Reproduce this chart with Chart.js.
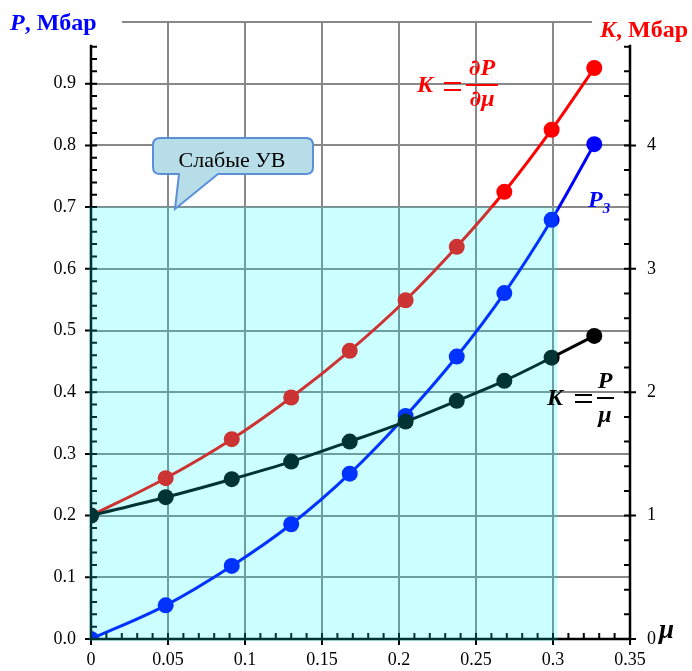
<!DOCTYPE html>
<html>
<head>
<meta charset="utf-8">
<script src="https://cdn.jsdelivr.net/npm/chart.js@4"></script>
<style>
  html, body { margin: 0; padding: 0; background: #fff; }
  #wrap { width: 692px; height: 671px; }
</style>
</head>
<body>
<div id="wrap"><canvas id="c" width="692" height="671"></canvas></div>
<script>
// ---- data ----
const muValues     = [0, 0.0485, 0.0914, 0.130, 0.168, 0.2043, 0.2375, 0.2684, 0.2991, 0.3268];
const pressureP3   = [0, 0.0546, 0.1184, 0.186, 0.268, 0.3616, 0.4578, 0.5606, 0.6794, 0.802];   // P, Mbar (left axis)
const kDerivative  = [1.0, 1.303, 1.619, 1.957, 2.335, 2.745, 3.178, 3.624, 4.127, 4.627];       // K = dP/dmu, Mbar (right axis)
const kRatio       = [1.0, 1.149, 1.295, 1.4375, 1.60, 1.762, 1.93, 2.092, 2.28, 2.456];          // K = P/mu, Mbar (right axis)
const weakShockMu  = 0.303;   // extent of the "weak shock" region
const weakShockP   = 0.7;

const pts = (xs, ys) => xs.map((v, i) => ({ x: v, y: ys[i] }));
const SERIF = "'Liberation Serif', 'Times New Roman', serif";
const DSERIF = "'DejaVu Serif', serif";

function richWidth(ctx, parts) {
  let w = 0;
  for (const p of parts) { ctx.font = p.font; w += ctx.measureText(p.text).width; }
  return w;
}
function drawRich(ctx, parts, x, y, center) {
  ctx.textAlign = 'left';
  let cx = center ? x - richWidth(ctx, parts) / 2 : x;
  for (const p of parts) {
    ctx.font = p.font;
    ctx.fillStyle = p.color;
    ctx.fillText(p.text, cx + (p.dx || 0), y + (p.dy || 0));
    cx += ctx.measureText(p.text).width + (p.dx || 0);
  }
}

const decor = {
  id: 'decor',
  beforeDraw(chart) {
    const c = chart.ctx;
    c.save();
    c.fillStyle = '#fff';
    c.fillRect(0, 0, chart.width, chart.height);
    c.restore();
  },
  afterDatasetsDraw(chart) {
    const { ctx, chartArea: a, scales: { x, y } } = chart;
    ctx.save();
    // partial top gridline
    ctx.strokeStyle = '#888';
    ctx.lineWidth = 2;
    const yTop = y.getPixelForValue(1);
    ctx.beginPath(); ctx.moveTo(a.left + 31, yTop); ctx.lineTo(a.right - 38, yTop); ctx.stroke();

    // axis lines
    const y0 = y.getPixelForValue(0);
    const yAx = y.getPixelForValue(0.963);
    ctx.strokeStyle = '#000';
    ctx.lineWidth = 2.5;
    ctx.beginPath();
    ctx.moveTo(a.left, yAx); ctx.lineTo(a.left, y0); ctx.lineTo(a.right, y0); ctx.lineTo(a.right, yAx);
    ctx.stroke();

    // ticks
    ctx.lineWidth = 2;
    ctx.beginPath();
    for (let i = 0; i <= 48; i++) {
      const p = y.getPixelForValue(i * 0.02);
      if (i % 5 === 0) { ctx.moveTo(a.left - 6, p); ctx.lineTo(a.left + 6, p); }
      else { ctx.moveTo(a.left, p); ctx.lineTo(a.left + 6, p); }
    }
    for (let i = 0; i <= 24; i++) {
      const p = chart.scales.y2.getPixelForValue(i * 0.2);
      if (i % 5 === 0) { ctx.moveTo(a.right - 6, p); ctx.lineTo(a.right + 6, p); }
      else { ctx.moveTo(a.right - 6, p); ctx.lineTo(a.right, p); }
    }
    for (let i = 0; i <= 35; i++) {
      const p = x.getPixelForValue(i * 0.01);
      if (i % 5 === 0) { ctx.moveTo(p, y0 - 6); ctx.lineTo(p, y0 + 6); }
      else { ctx.moveTo(p, y0); ctx.lineTo(p, y0 - 6); }
    }
    ctx.stroke();

    // weak shock region overlay
    const rx0 = x.getPixelForValue(0) - 2, rx1 = x.getPixelForValue(weakShockMu);
    const ry0 = y.getPixelForValue(weakShockP), ry1 = y0 + 2;
    ctx.fillStyle = 'rgba(0,255,255,0.2)';
    ctx.fillRect(rx0, ry0, rx1 - rx0, ry1 - ry0);

    // callout
    const bx = 153, by = 138, bw = 160, bh = 36, r = 7;
    ctx.beginPath();
    ctx.moveTo(bx + r, by);
    ctx.lineTo(bx + bw - r, by);
    ctx.quadraticCurveTo(bx + bw, by, bx + bw, by + r);
    ctx.lineTo(bx + bw, by + bh - r);
    ctx.quadraticCurveTo(bx + bw, by + bh, bx + bw - r, by + bh);
    ctx.lineTo(218, by + bh);
    ctx.lineTo(175, 209);
    ctx.lineTo(179, by + bh);
    ctx.lineTo(bx + r, by + bh);
    ctx.quadraticCurveTo(bx, by + bh, bx, by + bh - r);
    ctx.lineTo(bx, by + r);
    ctx.quadraticCurveTo(bx, by, bx + r, by);
    ctx.closePath();
    ctx.fillStyle = '#b7dde8';
    ctx.fill();
    ctx.strokeStyle = '#5b90d8';
    ctx.lineWidth = 2;
    ctx.stroke();
    ctx.fillStyle = '#000';
    ctx.font = `22px ${SERIF}`;
    ctx.textAlign = 'center';
    ctx.textBaseline = 'alphabetic';
    ctx.fillText('Слабые УВ', 232, by + 29);

    // axis titles
    drawRich(ctx, [
      { text: 'P', font: `italic bold 24px ${SERIF}`, color: '#0000ff' },
      { text: ', Мбар', font: `bold 24px ${SERIF}`, color: '#0000ff' }
    ], 10, 30);
    drawRich(ctx, [
      { text: 'K', font: `italic bold 24px ${SERIF}`, color: '#ff0000' },
      { text: ', Мбар', font: `bold 24px ${SERIF}`, color: '#ff0000' }
    ], 600, 37);
    ctx.textAlign = 'left';
    ctx.font = `italic bold 27px ${SERIF}`;
    ctx.fillStyle = '#000';
    ctx.fillText('μ', 659, 638);

    // formula K = dP/dmu
    const red = '#ff0000';
    drawRich(ctx, [{ text: 'K', font: `italic bold 24px ${SERIF}`, color: red }], 417, 92);
    ctx.fillStyle = red;
    ctx.fillRect(444, 82, 17, 2);
    ctx.fillRect(444, 89, 17, 2);
    drawRich(ctx, [
      { text: '∂', font: `italic bold 22px ${DSERIF}`, color: red },
      { text: 'P', font: `italic bold 24px ${SERIF}`, color: red }
    ], 482, 75, true);
    drawRich(ctx, [
      { text: '∂', font: `italic bold 22px ${DSERIF}`, color: red },
      { text: 'μ', font: `italic bold 24px ${SERIF}`, color: red }
    ], 482, 106, true);
    ctx.fillStyle = red;
    ctx.fillRect(466, 84, 32, 2);

    // P3 label
    drawRich(ctx, [
      { text: 'P', font: `italic bold 24px ${SERIF}`, color: '#0000ff' },
      { text: '3', font: `italic bold 15px ${SERIF}`, color: '#0000ff', dy: 6 }
    ], 588, 207);

    // formula K = P/mu
    drawRich(ctx, [{ text: 'K', font: `italic bold 24px ${SERIF}`, color: '#000' }], 547, 405);
    ctx.fillStyle = '#000';
    ctx.fillRect(575, 394, 17, 2);
    ctx.fillRect(575, 401, 17, 2);
    drawRich(ctx, [{ text: 'P', font: `italic bold 24px ${SERIF}`, color: '#000' }], 605, 388, true);
    drawRich(ctx, [{ text: 'μ', font: `italic bold 24px ${SERIF}`, color: '#000' }], 605, 422, true);
    ctx.fillStyle = '#000';
    ctx.fillRect(597, 397, 17, 2);
    ctx.restore();
  }
};

const gridColor = 'rgba(136,136,136,1)';
const tickFont = { family: SERIF, size: 18 };

new Chart(document.getElementById('c'), {
  type: 'line',
  data: {
    datasets: [
      { label: 'K = P/μ', data: pts(muValues, kRatio), yAxisID: 'y2', borderColor: '#000', backgroundColor: '#000', order: 0 },
      { label: 'P3', data: pts(muValues, pressureP3), yAxisID: 'y', borderColor: '#0000ff', backgroundColor: '#0000ff', order: 1 },
      { label: 'K = ∂P/∂μ', data: pts(muValues, kDerivative), yAxisID: 'y2', borderColor: '#ff0000', backgroundColor: '#ff0000', order: 2 }
    ]
  },
  options: {
    responsive: false,
    animation: false,
    devicePixelRatio: 1,
    layout: { padding: { top: 22, left: 0, right: 0, bottom: 0 } },
    elements: {
      line: { borderWidth: 3, cubicInterpolationMode: 'monotone', fill: false },
      point: { radius: 8, borderWidth: 0, hoverRadius: 8 }
    },
    plugins: { legend: { display: false }, tooltip: { enabled: false } },
    events: [],
    scales: {
      x: {
        type: 'linear', min: 0, max: 0.35,
        afterFit(s) { s.height = 32; s.paddingLeft = 0; s.paddingRight = 0; },
        border: { display: false },
        grid: {
          drawTicks: false, lineWidth: 2,
          color: c => (c.tick && (Math.abs(c.tick.value) < 1e-9 || Math.abs(c.tick.value - 0.35) < 1e-9)) ? 'rgba(0,0,0,0)' : gridColor
        },
        ticks: {
          stepSize: 0.05, padding: 10, color: '#000', font: tickFont, maxRotation: 0,
          callback: v => String(parseFloat(Number(v).toFixed(2)))
        }
      },
      y: {
        type: 'linear', position: 'left', min: 0, max: 1,
        afterFit(s) { s.width = 91; s.paddingTop = 0; s.paddingBottom = 0; },
        border: { display: false },
        grid: {
          drawTicks: false, lineWidth: 2,
          color: c => (c.tick && (Math.abs(c.tick.value) < 1e-9 || Math.abs(c.tick.value - 1) < 1e-9)) ? 'rgba(0,0,0,0)' : gridColor
        },
        ticks: {
          stepSize: 0.1, padding: 15, color: '#000', font: tickFont,
          callback: v => Math.abs(v - 1) < 1e-9 ? '' : Number(v).toFixed(1)
        }
      },
      y2: {
        type: 'linear', position: 'right', min: 0, max: 5,
        afterFit(s) { s.width = 62; s.paddingTop = 0; s.paddingBottom = 0; },
        border: { display: false },
        grid: { display: false, drawTicks: false },
        ticks: {
          stepSize: 1, padding: 17, color: '#000', font: tickFont,
          callback: v => Math.abs(v - 5) < 1e-9 ? '' : String(v)
        }
      }
    }
  },
  plugins: [decor]
});
</script>
</body>
</html>
